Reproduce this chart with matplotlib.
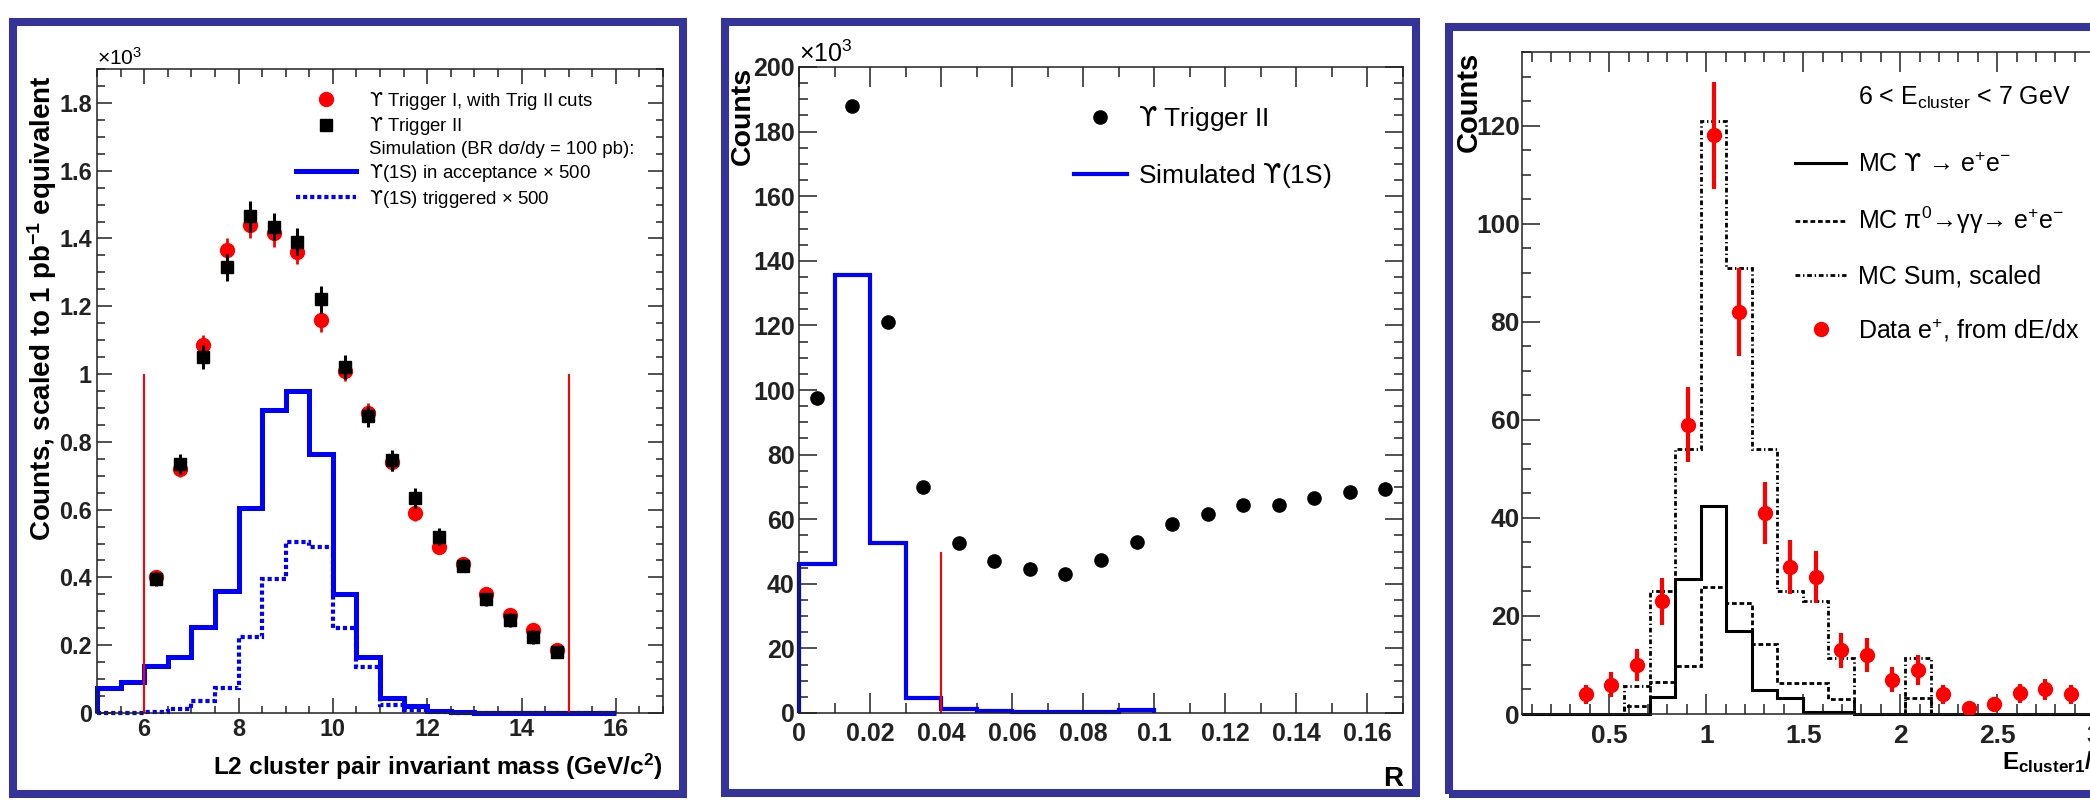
import numpy as np
import matplotlib
matplotlib.use("Agg")
import matplotlib.pyplot as plt
from matplotlib import font_manager
from matplotlib.lines import Line2D
from matplotlib.patches import Rectangle
from matplotlib.ticker import MultipleLocator, FuncFormatter

# ---------------- panel 1 : L2 cluster pair invariant mass (counts x 10^3)
mass_edges = np.linspace(5.0, 16.0, 23)            # 0.5 GeV/c^2 bins
mass_centres = np.arange(6.25, 14.8, 0.5)
trig1_counts = [0.40, 0.72, 1.085, 1.365, 1.44, 1.415, 1.36, 1.16, 1.01,
                0.885, 0.74, 0.59, 0.49, 0.44, 0.35, 0.29, 0.245, 0.185]
trig1_err = [0.02, 0.025, 0.03, 0.035, 0.04, 0.04, 0.035, 0.035, 0.03,
             0.03, 0.025, 0.025, 0.02, 0.02, 0.02, 0.015, 0.015, 0.015]
trig2_counts = [0.395, 0.735, 1.05, 1.315, 1.465, 1.435, 1.39, 1.22, 1.02,
                0.875, 0.745, 0.635, 0.52, 0.435, 0.335, 0.275, 0.225, 0.18]
trig2_err = [0.02, 0.03, 0.035, 0.04, 0.045, 0.04, 0.04, 0.04, 0.035,
             0.03, 0.03, 0.03, 0.025, 0.02, 0.02, 0.02, 0.02, 0.015]
accept_x500 = [0.075, 0.09, 0.14, 0.165, 0.255, 0.36, 0.605, 0.895, 0.95, 0.765, 0.35,
               0.165, 0.045, 0.02, 0.005, 0.002, 0.001, 0, 0, 0, 0, 0]
trigd_x500 = [0.0, 0.0, 0.003, 0.012, 0.035, 0.075, 0.225, 0.395, 0.505, 0.49, 0.25,
              0.135, 0.025, 0.01, 0.002, 0, 0, 0, 0, 0, 0, 0]
mass_cuts = [6.0, 15.0]

# ---------------- panel 2 : R distribution (counts x 10^3)
r_centres = np.arange(0.005, 0.17, 0.01)
r_trig2 = [97.5, 188, 121, 70, 52.5, 47, 44.5, 43, 47.5, 53, 58.5, 61.5,
           64.5, 64.5, 66.5, 68.5, 69.5]
r_edges = np.linspace(0.0, 0.1, 11)
r_sim = [46, 135.5, 52.5, 4.5, 1.2, 0.6, 0.3, 0.3, 0.3, 1.0]
r_cut = 0.04

# ---------------- panel 3 : E/p, 6 < E_cluster < 7 GeV
ep_edges = np.linspace(0.05, 4.0, 31)
ep_centres = 0.5 * (ep_edges[:-1] + ep_edges[1:])
mc_upsilon = [0, 0, 0, 0, 0, 3.5, 27.5, 42.5, 17, 4.8, 3.2, 0.5, 0.4, 0, 0,
              0, 0, 0, 0, 0, 0, 0, 0, 0, 0, 0, 0, 0, 0, 0]
mc_pi0 = [0, 0, 0, 0, 1.7, 6.5, 9.8, 25.8, 22.6, 14.3, 6.4, 6.4, 3.0, 0, 0,
          3.2, 0, 0, 0, 0, 0, 0, 0, 0, 0, 0, 0, 0, 0, 0]
mc_sum = [0, 0, 0, 0, 5.8, 25, 54, 121, 91, 54, 25, 23, 11.5, 0, 0,
          11.5, 0, 0, 0, 0, 0, 0, 0, 0, 0, 0, 0, 0, 0, 0]
data_first_bin = 2
data_counts = [4, 6, 10, 23, 59, 118, 82, 41, 30, 28, 13, 12, 7, 9, 4, 1.2, 2, 4.2, 5, 4]
data_err = [2.0, 2.5, 3.2, 4.8, 7.7, 10.9, 9.0, 6.4, 5.5, 5.3, 3.6, 3.5, 2.6, 3.0,
            2.0, 1.1, 1.4, 2.0, 2.2, 2.0]

# ---------------- fonts
names = {f.name for f in font_manager.fontManager.ttflist}
narrow = next((n for n in ["Liberation Sans Narrow", "Arial Narrow", "Nimbus Sans Narrow"]
               if n in names), None)
BASE = ["Liberation Sans", "DejaVu Sans"]
P1 = [narrow, "Liberation Sans", "DejaVu Sans"] if narrow else BASE
k1 = 1.0 if narrow else 0.84      # shrink panel-1 text when no narrow face exists

plt.rcParams["font.family"] = BASE
plt.rcParams["mathtext.fontset"] = "custom"
plt.rcParams["mathtext.rm"] = "Liberation Sans"
plt.rcParams["mathtext.it"] = "Liberation Sans:italic"
plt.rcParams["mathtext.bf"] = "Liberation Sans:bold"
plt.rcParams["mathtext.sf"] = "DejaVu Sans"     # hooked upsilon glyph

UPS = "$\\mathsf{\u03d2}$"
BLUE = "#0000ff"
W, H = 2090, 801
fig = plt.figure(figsize=(W / 100, H / 100), dpi=100)
fig.patch.set_facecolor("white")

# panel frames (dark blue)
for x0, y0, x1, y1 in [(13, 22, 683, 794), (725, 22, 1416, 793), (1449, 27, 2200, 794)]:
    fig.add_artist(Rectangle((x0 / W, (H - y1) / H), (x1 - x0) / W, (y1 - y0) / H,
                             transform=fig.transFigure, fill=False, ec="#333399",
                             lw=5.8, zorder=0))

fmt_g = FuncFormatter(lambda v, p: "%g" % round(v, 6))


def style(ax, fam, size, xmaj, xmin, ymaj, ymin, lx, ly, pad_x, pad_y):
    ax.xaxis.set_major_locator(MultipleLocator(xmaj))
    ax.xaxis.set_minor_locator(MultipleLocator(xmin))
    ax.yaxis.set_major_locator(MultipleLocator(ymaj))
    ax.yaxis.set_minor_locator(MultipleLocator(ymin))
    ax.xaxis.set_major_formatter(fmt_g)
    ax.yaxis.set_major_formatter(fmt_g)
    ax.tick_params(which="both", direction="in", top=True, right=True, width=1.1,
                   colors="#222222")
    ax.tick_params(axis="x", which="major", length=lx, pad=pad_x)
    ax.tick_params(axis="y", which="major", length=ly, pad=pad_y)
    ax.tick_params(axis="x", which="minor", length=lx * 0.5)
    ax.tick_params(axis="y", which="minor", length=ly * 0.5)
    for s in ax.spines.values():
        s.set_linewidth(1.1)
        s.set_color("#222222")
    for lab in ax.get_xticklabels() + ax.get_yticklabels():
        lab.set_family(fam)
        lab.set_fontsize(size)
        lab.set_fontweight("bold")


# ================= panel 1
ax1 = fig.add_axes([97 / W, (H - 713) / H, (663 - 97) / W, (713 - 69) / H])
ax1.stairs(accept_x500, mass_edges, color=BLUE, lw=3.6, clip_on=False, zorder=2)
ax1.stairs(trigd_x500, mass_edges, color=BLUE, lw=3.0, ls=(0, (1.0, 0.7)),
           clip_on=False, zorder=2)
ax1.vlines(mass_cuts, 0, 1.0, color="red", lw=1.5, zorder=2)
ax1.errorbar(mass_centres, trig1_counts, yerr=trig1_err, fmt="o", color="red",
             ms=10, elinewidth=2, capsize=0, zorder=3)
ax1.errorbar(mass_centres, trig2_counts, yerr=trig2_err, fmt="s", color="black",
             ms=8, elinewidth=2.2, capsize=0, zorder=4)
ax1.set_xlim(5, 17)
ax1.set_ylim(0, 1.9)
style(ax1, P1, 20 * k1, 2, 0.5, 0.2, 0.05, 10.8, 10.8, 3.6, 3.6)
ax1.set_xlabel("L2 cluster pair invariant mass (GeV/c$^{\\mathbf{2}}$)", family=P1,
               fontsize=21 * k1, fontweight="bold", loc="right")
ax1.xaxis.set_label_coords(1.0, -0.084)
ax1.xaxis.label.set_va("center")
ax1.set_ylabel("Counts, scaled to 1 pb$^{\\mathbf{-1}}$ equivalent", family=P1,
               fontsize=20, fontweight="bold", loc="top")
ax1.yaxis.set_label_coords(-0.097, 0.99)
ax1.yaxis.label.set_va("center")
ax1.text(0.0, 1.006, "\u00d710$^{3}$", transform=ax1.transAxes, family=P1,
         fontsize=18 * k1, ha="left", va="baseline")
h1 = [Line2D([], [], marker="o", color="red", ls="none", ms=10),
      Line2D([], [], marker="s", color="black", ls="none", ms=8),
      Line2D([], [], ls="none"),
      Line2D([], [], color=BLUE, lw=3.6),
      Line2D([], [], color=BLUE, lw=3.0, ls=(0, (1.0, 0.7)))]
l1 = [UPS + " Trigger I, with Trig II cuts", UPS + " Trigger II",
      "Simulation (BR d\u03c3/dy = 100 pb):",
      UPS + "(1S) in acceptance \u00d7 500", UPS + "(1S) triggered \u00d7 500"]
ax1.legend(h1, l1, loc="upper left", bbox_to_anchor=(0.352, 0.968), frameon=False,
           prop={"family": P1, "size": 16 * k1}, handlelength=3.2,
           handletextpad=0.7, labelspacing=0.2, borderpad=0, borderaxespad=0,
           numpoints=1)

# ================= panel 2
ax2 = fig.add_axes([799 / W, (H - 713) / H, (1403 - 799) / W, (713 - 67) / H])
ax2.stairs(r_sim, r_edges, color=BLUE, lw=3.0, clip_on=False, zorder=2)
ax2.vlines(r_cut, 0, 50, color="red", lw=1.5, zorder=2)
ax2.plot(r_centres, r_trig2, "o", color="black", ms=9.5, zorder=3)
ax2.set_xlim(0, 0.17)
ax2.set_ylim(0, 200)
style(ax2, BASE, 18, 0.02, 0.01, 20, 5, 14.4, 13, 6.5, 3)
ax2.set_ylabel("Counts", fontsize=20.5, fontweight="bold", loc="top")
ax2.yaxis.set_label_coords(-0.093, 1.0)
ax2.yaxis.label.set_va("center")
ax2.set_xlabel("R", fontsize=20, fontweight="bold", loc="right")
ax2.xaxis.set_label_coords(1.0, -0.102)
ax2.xaxis.label.set_va("center")
ax2.text(0.0, 1.008, "\u00d710$^{3}$", transform=ax2.transAxes, fontsize=18,
         ha="left", va="baseline")
h2 = [Line2D([], [], marker="o", color="black", ls="none", ms=9.5),
      Line2D([], [], color=BLUE, lw=3.0)]
ax2.legend(h2, [UPS + " Trigger II", "Simulated " + UPS + "(1S)"], loc="upper left",
           bbox_to_anchor=(0.455, 0.942), frameon=False, prop={"size": 19},
           handlelength=2.0, handletextpad=0.45, labelspacing=1.05, borderpad=0,
           borderaxespad=0, numpoints=1)

# ================= panel 3
ax3 = fig.add_axes([1522 / W, (H - 714) / H, (2288 - 1522) / W, (714 - 52) / H])
ax3.stairs(mc_sum, ep_edges, color="black", lw=2.0, ls=(0, (1.7, 1.0, 0.5, 1.0)),
           clip_on=False, zorder=2)
ax3.stairs(mc_pi0, ep_edges, color="black", lw=2.0, ls=(0, (1.7, 1.0)),
           clip_on=False, zorder=2)
ax3.stairs(mc_upsilon, ep_edges, color="black", lw=2.2, clip_on=False, zorder=2)
ax3.errorbar(ep_centres[data_first_bin:data_first_bin + len(data_counts)], data_counts,
             yerr=data_err, fmt="o", color="red", ms=10, elinewidth=3, capsize=0,
             zorder=3)
ax3.set_xlim(0.05, 4.0)
ax3.set_ylim(0, 135)
style(ax3, BASE, 19, 0.5, 0.1, 20, 5, 14.4, 13, 7, 1.5)
ax3.set_ylabel("Counts", fontsize=21, fontweight="bold", loc="top")
ax3.yaxis.set_label_coords(-0.069, 1.0)
ax3.yaxis.label.set_va("center")
ax3.set_xlabel("E$_{\\mathbf{cluster1}}$/p", fontsize=17.5, fontweight="bold")
ax3.xaxis.set_label_coords(0.627, -0.074)
ax3.xaxis.label.set_ha("left")
ax3.xaxis.label.set_va("center")
ax3.text(0.4386, 0.9305, "6 < E$_{\\mathrm{cluster}}$ < 7 GeV", transform=ax3.transAxes,
         fontsize=18, ha="left", va="center")
h3 = [Line2D([], [], color="black", lw=2.2),
      Line2D([], [], color="black", lw=2.0, ls=(0, (1.7, 1.0))),
      Line2D([], [], color="black", lw=2.0, ls=(0, (1.7, 1.0, 0.5, 1.0))),
      Line2D([], [], marker="o", color="red", ls="none", ms=10)]
l3 = ["MC " + UPS + " \u2192 e$^{+}$e$^{-}$",
      "MC \u03c0$^{0}$\u2192\u03b3\u03b3\u2192 e$^{+}$e$^{-}$",
      "MC Sum, scaled", "Data e$^{+}$, from dE/dx"]
ax3.legend(h3, l3, loc="upper left", bbox_to_anchor=(0.3564, 0.848), frameon=False,
           prop={"size": 18}, handlelength=2.05, handletextpad=0.48, labelspacing=1.12,
           borderpad=0, borderaxespad=0, numpoints=1)

fig.savefig("out.png", dpi=100, facecolor="white")
